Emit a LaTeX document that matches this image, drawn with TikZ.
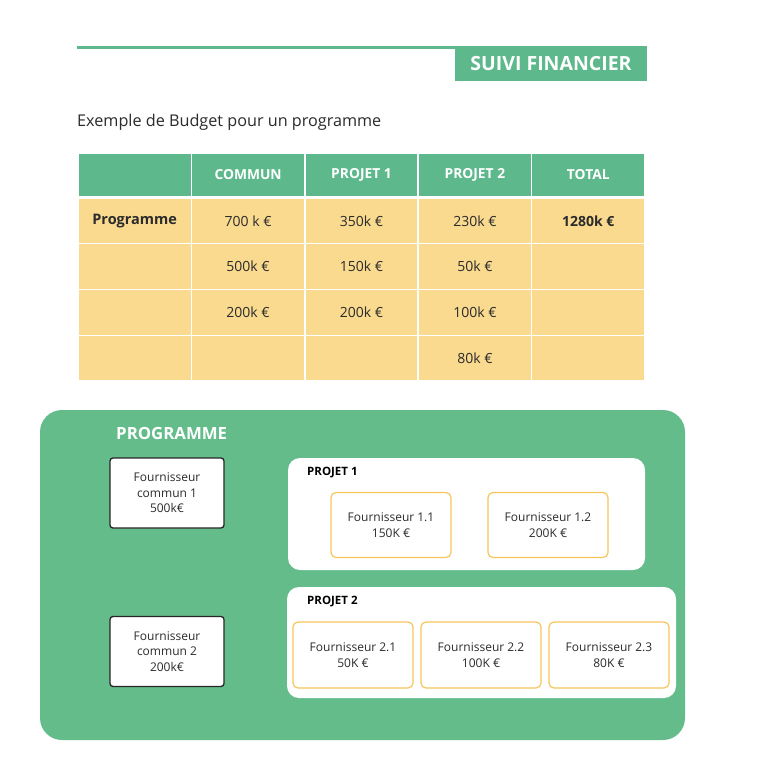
\documentclass[tikz,border=0pt]{standalone}
\usepackage{fontspec}
\setmainfont{Open Sans}
\definecolor{vert}{HTML}{5DB98B}
\definecolor{vertfond}{HTML}{63BC89}
\definecolor{jaune}{HTML}{F9DA8F}
\definecolor{bordjaune}{HTML}{F6C65A}
\definecolor{texte}{HTML}{2B2B2B}
\tikzset{
  cellule/.style={minimum width=113.4pt,minimum height=46pt,inner sep=0pt,draw=white,line width=1.5pt,text=texte,font=\fontsize{14}{16}\selectfont},
  entete/.style={cellule,minimum height=44pt,fill=vert,text=white,font=\fontsize{13.8}{15}\selectfont\bfseries},
  corps/.style={cellule,fill=jaune},
  commun/.style={draw=black!85,line width=1.3pt,fill=white,rounded corners=3pt,minimum width=114pt,minimum height=70pt,inner sep=0pt,align=center,text=texte,font=\fontsize{12}{15.5}\selectfont},
  projet/.style={fill=white,rounded corners=12pt,inner sep=0pt},
  fournisseur/.style={draw=bordjaune,line width=1.2pt,fill=white,rounded corners=5pt,minimum width=120pt,minimum height=65pt,inner sep=0pt,align=center,text=texte,font=\fontsize{12}{15.5}\selectfont},
  titreprojet/.style={anchor=west,inner sep=0pt,text=black,font=\fontsize{11.5}{13}\selectfont\bfseries}
}
\begin{document}
\begin{tikzpicture}[x=1pt,y=-1pt]
\useasboundingbox[fill=white] (0,0) rectangle (768,758);
% bandeau du haut
\node(suivi) at (551,63.5)[fill=vert,minimum width=192pt,minimum height=35pt,inner sep=0pt,text=white,font=\fontsize{19.5}{21}\selectfont\bfseries] {SUIVI FINANCIER};
\coordinate(debut) at (77,47);
\draw[vert,line width=3pt] (debut) -- (debut -| suivi.west);
\node(intro) at (77,122.5)[anchor=west,inner sep=0pt,text=texte,font=\fontsize{16.2}{18}\selectfont] {Exemple de Budget pour un programme};
% tableau
\node(a0) at (134.7,175)[entete] {};
\node(a1) at (248.1,175)[entete] {COMMUN};
\node(a2) at (361.5,175)[entete] {PROJET 1};
\node(a3) at (474.9,175)[entete] {PROJET 2};
\node(a4) at (588.3,175)[entete] {TOTAL};
\node(b0) at (134.7,221)[corps,font=\fontsize{14.5}{16}\selectfont\bfseries] {Programme};
\node(b1) at (248.1,221)[corps] {700 k €};
\node(b2) at (361.5,221)[corps] {350k €};
\node(b3) at (474.9,221)[corps] {230k €};
\node(b4) at (588.3,221)[corps,font=\fontsize{14}{16}\selectfont\bfseries] {1280k €};
\node(c0) at (134.7,266.5)[corps] {};
\node(c1) at (248.1,266.5)[corps] {500k €};
\node(c2) at (361.5,266.5)[corps] {150k €};
\node(c3) at (474.9,266.5)[corps] {50k €};
\node(c4) at (588.3,266.5)[corps] {};
\node(d0) at (134.7,312.5)[corps] {};
\node(d1) at (248.1,312.5)[corps] {200k €};
\node(d2) at (361.5,312.5)[corps] {200k €};
\node(d3) at (474.9,312.5)[corps] {100k €};
\node(d4) at (588.3,312.5)[corps] {};
\node(e0) at (134.7,358)[corps,minimum height=45pt] {};
\node(e1) at (248.1,358)[corps,minimum height=45pt] {};
\node(e2) at (361.5,358)[corps,minimum height=45pt] {};
\node(e3) at (474.9,358)[corps,minimum height=45pt] {80k €};
\node(e4) at (588.3,358)[corps,minimum height=45pt] {};
% programme
\node(programme) at (362.5,575)[fill=vertfond,rounded corners=22pt,minimum width=645pt,minimum height=330pt,inner sep=0pt] {};
\node(titre) at (116,433.5)[anchor=west,inner sep=0pt,text=white,font=\fontsize{16.8}{18}\selectfont\bfseries] {PROGRAMME};
\node(commun1) at (167,493)[commun] {Fournisseur\\commun 1\\500k€};
\node(commun2) at (167,651.5)[commun] {Fournisseur\\commun 2\\200k€};
\node(projet1) at (466.5,514)[projet,minimum width=357pt,minimum height=112pt] {};
\node(projet2) at (481.5,642.5)[projet,minimum width=389pt,minimum height=111pt] {};
\node(titre1) at (307,473)[titreprojet] {PROJET 1};
\node(titre2) at (307,602)[titreprojet] {PROJET 2};
\node(f11) at (391,525)[fournisseur] {Fournisseur 1.1\\150K €};
\node(f12) at (548,525)[fournisseur] {Fournisseur 1.2\\200K €};
\node(f21) at (353,655)[fournisseur,minimum height=66pt] {Fournisseur 2.1\\50K €};
\node(f22) at (481,655)[fournisseur,minimum height=66pt] {Fournisseur 2.2\\100K €};
\node(f23) at (609,655)[fournisseur,minimum height=66pt] {Fournisseur 2.3\\80K €};
\end{tikzpicture}
\end{document}
